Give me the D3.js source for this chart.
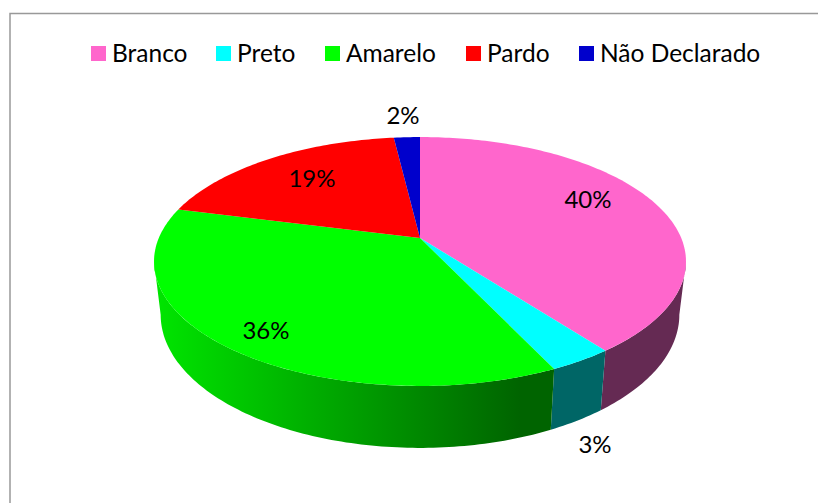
<!DOCTYPE html>
<html>
<head>
<meta charset="utf-8">
<script src="https://cdn.jsdelivr.net/npm/d3@7"></script>
<style>
  html, body { margin: 0; padding: 0; background: #fff; }
  svg { display: block; }
  text { font-family: Lato, "Open Sans", sans-serif; fill: #000; }
</style>
</head>
<body>
<div id="chart"></div>
<script>
var categories = ['Branco', 'Preto', 'Amarelo', 'Pardo', 'Não Declarado'];
var values = [39.7, 3.3, 36, 19.1, 1.9];
var labels = ['40%', '3%', '36%', '19%', '2%'];
var colors = ['#ff66cc', '#00ffff', '#00ff00', '#ff0000', '#0000cc'];
var sideColors = ['#652a53', '#006666', 'url(#greenSide)', '#990000', '#000077'];

// where the text sits, same order as categories
var labelX = [588, 595, 266, 312, 403];
var labelY = [200, 445, 331, 179, 116];
var legendX = [91, 216, 325, 466, 579];

var width = 818, height = 503;

// tilted disc, a bit of perspective so the centre is not the middle of the ellipse
var cx = 420, cy = 238, rx = 261.2, ry = 120, persp = 0.1888;
var bottomCy = 289.6, bottomScaleX = 0.975, bottomScaleY = 1.07;

// the wall only shows between the two widest points of the rim
var frontStart = Math.acos(-persp), frontEnd = 2 * Math.PI - frontStart;

var topPoint = function(a){
    var u = Math.sin(a), v = -Math.cos(a);
    var w = 1 - persp * v;
    return [cx + rx * u / w, cy + ry * v / w];
};

var bottomPoint = function(a){
    var p = topPoint(a);
    return [cx + (p[0] - cx) * bottomScaleX, bottomCy + (p[1] - cy) * bottomScaleY];
};

var sample = function(a0, a1, fn){
    var n = Math.max(2, Math.ceil((a1 - a0) * 60));
    return d3.range(n + 1).map(function(i){
        return fn(a0 + (a1 - a0) * i / n);
    });
};

var svg = d3.select('#chart').append('svg')
    .attr('width', width)
    .attr('height', height);

var grad = svg.append('defs').append('linearGradient')
    .attr('id', 'greenSide')
    .attr('gradientUnits', 'userSpaceOnUse')
    .attr('x1', 154).attr('x2', 553)
    .attr('y1', 0).attr('y2', 0);
grad.append('stop').attr('offset', '0').attr('stop-color', '#00e600');
grad.append('stop').attr('offset', '0.917').attr('stop-color', '#006400');
grad.append('stop').attr('offset', '1').attr('stop-color', '#006400');

// frame, only left and top show
svg.append('path')
    .attr('d', d3.line()([[10, height], [10, 13.5], [width, 13.5]]))
    .attr('fill', 'none')
    .attr('stroke', '#999')
    .attr('stroke-width', 1.5);

var pie = d3.pie().sort(null)(values);
var line = d3.line();

var front = pie.filter(function(d){
    return d.startAngle < frontEnd && d.endAngle > frontStart;
});

svg.append('g').selectAll('path')
    .data(front)
    .enter().append('path')
    .attr('d', function(d){
        var a0 = Math.max(d.startAngle, frontStart);
        var a1 = Math.min(d.endAngle, frontEnd);
        var top = sample(a0, a1, topPoint);
        var bottom = sample(a0, a1, bottomPoint).reverse();
        return line(top.concat(bottom)) + 'Z';
    })
    .attr('fill', function(d){ return sideColors[d.index]; });

svg.append('g').selectAll('path')
    .data(pie)
    .enter().append('path')
    .attr('d', function(d){
        return line([[cx, cy]].concat(sample(d.startAngle, d.endAngle, topPoint))) + 'Z';
    })
    .attr('fill', function(d){ return colors[d.index]; });

svg.append('g').selectAll('text')
    .data(labels)
    .enter().append('text')
    .attr('x', function(d, i){ return labelX[i]; })
    .attr('y', function(d, i){ return labelY[i]; })
    .attr('dy', '0.35em')
    .attr('text-anchor', 'middle')
    .attr('font-size', 24)
    .text(function(d){ return d; });

var legend = svg.append('g').selectAll('g')
    .data(categories)
    .enter().append('g')
    .attr('transform', function(d, i){ return 'translate(' + legendX[i] + ',46)'; });

legend.append('rect')
    .attr('width', 15)
    .attr('height', 15)
    .attr('fill', function(d, i){ return colors[i]; });

legend.append('text')
    .attr('x', 21)
    .attr('y', 7.5)
    .attr('dy', '0.35em')
    .attr('font-size', 24.5)
    .text(function(d){ return d; });
</script>
</body>
</html>
